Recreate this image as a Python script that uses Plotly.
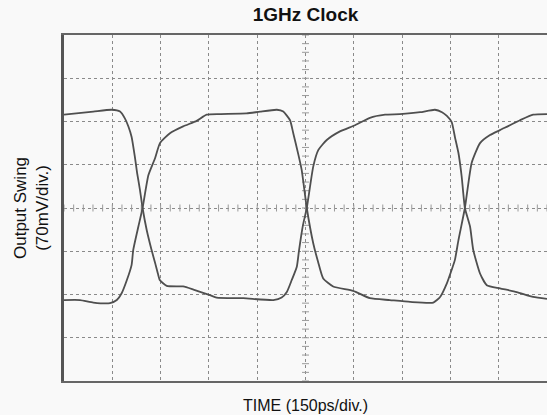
import numpy as np
import plotly.graph_objects as go

# Time in ps (150 ps/div), voltage in mV (70 mV/div)
time_a = [0, 91, 148, 174, 189, 200, 210, 220, 227, 236, 244, 257, 272, 283, 292, 298, 319, 370, 402, 453, 474, 557, 650, 676, 692, 707, 723, 730, 742, 754, 774, 790, 816, 857, 904, 950, 997, 1043, 1106, 1152, 1174, 1189, 1204, 1214, 1225, 1235, 1245, 1261, 1271, 1292, 1313, 1354, 1406, 1457, 1500]
volt_a = [151, 156, 159, 156, 145, 132, 115, 83, 57, 29, 0, -36, -68, -89, -107, -117, -126, -127, -132, -141, -145, -146, -149, -145, -136, -117, -95, -68, -28, 0, 67, 94, 110, 124, 134, 146, 151, 152, 155, 159, 155, 149, 139, 115, 89, 51, 0, -30, -68, -106, -125, -130, -136, -144, -147]

time_b = [0, 50, 91, 143, 164, 179, 195, 210, 215, 231, 244, 262, 283, 298, 329, 370, 412, 443, 484, 567, 609, 661, 681, 702, 712, 728, 738, 754, 774, 789, 805, 836, 898, 950, 1012, 1075, 1147, 1168, 1189, 1204, 1214, 1225, 1245, 1266, 1292, 1323, 1354, 1416, 1457, 1500]
volt_b = [-149, -149, -153, -154, -149, -138, -117, -92, -68, -30, 0, 53, 81, 105, 121, 132, 141, 151, 152, 153, 156, 159, 156, 142, 121, 86, 62, 0, -57, -87, -114, -127, -134, -146, -149, -152, -153, -144, -122, -100, -84, -52, 0, 73, 105, 118, 126, 142, 151, 152]

ps_per_div = 150
mv_per_div = 70
n_xdiv = 10
n_ydiv = 8

title_text = "1GHz Clock"
x_title = "TIME (150ps/div.)"
y_title = "Output Swing<br>(70mV/div.)"

FONT = "Liberation Sans, Arial, sans-serif"
TRACE_COLOR = "#4f4f4f"
GRID_COLOR = "#8a8a8a"
BG = "#f9f9f9"

W, H = 547, 415
L, R, T, B = 64, 0, 35, 34
PW, PH = W - L - R, H - T - B

x_max = ps_per_div * n_xdiv
y_max = mv_per_div * n_ydiv / 2

fig = go.Figure()

# center-line minor ticks (graticule)
minor_y = np.arange(-y_max, y_max + 0.1, mv_per_div / 5)
minor_x = np.arange(0, x_max + 0.1, ps_per_div / 5)
fig.add_trace(go.Scatter(
    x=[x_max / 2] * len(minor_y), y=minor_y, mode="markers",
    marker=dict(symbol="line-ew", size=5, line=dict(color="#9a9a9a", width=1)),
    hoverinfo="skip", showlegend=False))
fig.add_trace(go.Scatter(
    x=minor_x, y=[0] * len(minor_x), mode="markers",
    marker=dict(symbol="line-ns", size=5, line=dict(color="#9a9a9a", width=1)),
    hoverinfo="skip", showlegend=False))

for tx, vy in ((time_a, volt_a), (time_b, volt_b)):
    fig.add_trace(go.Scatter(x=tx, y=vy, mode="lines",
                             line=dict(color=TRACE_COLOR, width=1.8, shape="spline", smoothing=0.5),
                             showlegend=False))

fig.update_layout(
    width=W, height=H,
    margin=dict(l=L, r=R, t=T, b=B, autoexpand=False),
    paper_bgcolor=BG, plot_bgcolor=BG,
    font=dict(family=FONT, color="#111111"),
    title=dict(text="<b>" + title_text + "</b>", x=0.5, xref="paper", xanchor="center",
               y=1 - 14 / H, yref="container", yanchor="middle",
               font=dict(size=19, family=FONT, color="#111111")),
    xaxis=dict(range=[0, x_max], dtick=ps_per_div, tick0=0, showgrid=True,
               gridcolor=GRID_COLOR, griddash="dot", gridwidth=1,
               zeroline=False, showticklabels=False, ticks="",
               showline=True, mirror=True, linecolor="#666666", linewidth=2),
    yaxis=dict(range=[-y_max, y_max], dtick=mv_per_div, tick0=0, showgrid=True,
               gridcolor=GRID_COLOR, griddash="dot", gridwidth=1,
               zeroline=False, showticklabels=False, ticks="",
               showline=True, mirror=False, linecolor="#555555", linewidth=2.5),
)

fig.add_annotation(text=x_title, x=0.5, xref="paper", y=-(405 - (H - B)) / PH, yref="paper",
                   yanchor="middle", xanchor="center", showarrow=False,
                   font=dict(size=16, family=FONT, color="#111111"))
fig.add_annotation(text=y_title, x=-(L - 31) / PW, xref="paper", y=0.5, yref="paper",
                   xanchor="center", yanchor="middle", textangle=-90, showarrow=False,
                   font=dict(size=17, family=FONT, color="#111111"))

fig.write_html("out.html", config={"displayModeBar": False},
               post_script="document.body.style.margin='0';document.body.style.overflow='hidden';")
